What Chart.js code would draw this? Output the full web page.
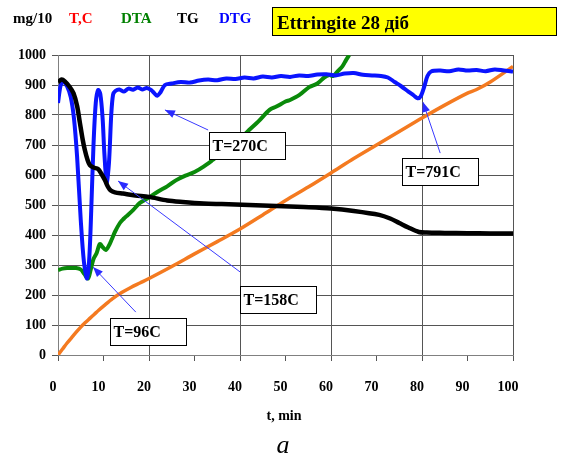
<!DOCTYPE html>
<html>
<head>
<meta charset="utf-8">
<script src="https://cdn.jsdelivr.net/npm/chart.js@4.4.1/dist/chart.umd.min.js"></script>
<style>
html,body{margin:0;padding:0;background:#fff;}
#wrap{width:564px;height:459px;position:relative;}
</style>
</head>
<body>
<div id="wrap"><canvas id="c" width="564" height="459"></canvas></div>
<script>
// ---- data (t in min) ----
const tDTG = [0,0.6,1.2,2,2.8,3.5,4.2,5.0,5.7,6.4,6.9,7.3,7.8,8.3,8.8,9.3,9.8,10.2,10.7,11.2,11.7,12.1,12.6,13.5,14.5,15.5,16.5,17.5,18.5,19.5,20.5,21.2,21.8,22.5,23.5,25,27,29,31,33,35,37,39,41,43,45,47,49,51,53,55,57,59,61,63,65,67,69,71,72.5,74,75.5,77,78.2,79,79.7,80.5,81.2,82,84,86,88,90,92,94,96,98,100];
const vDTG = [840,900,911,895,860,790,660,450,310,255,330,480,700,840,883,870,790,670,575,640,800,868,880,885,878,888,884,892,885,890,883,872,864,875,900,905,910,908,915,918,916,922,920,925,922,928,925,930,927,932,930,935,936,932,938,940,934,932,930,925,910,895,878,865,856,862,895,930,945,948,946,952,948,950,946,952,948,945];

const tTG = [0,0.8,1.5,2.5,3.4,4.2,4.8,5.4,5.9,6.5,7,7.8,8.8,9.5,10.3,11,11.6,12.5,14.3,17,20,24,27.4,32,36,42,48,54,60,65,70.6,73,75,77,79.3,81,85,90,95,100];
const vTG = [910,918,912,895,873,830,775,720,683,650,633,625,620,605,583,560,548,542,538,532,527,515,510,505,503,500,497,493,488,480,467,455,440,425,410,408,407,406,405,405];

const tDTA = [0,1,2,3,4,5,5.8,6.6,7.2,7.8,8.5,9.2,9.8,10.5,11.2,11.8,12.5,13.6,14.5,15,16.5,18,20,22,24,26,28,30,32,34,35,36,38,40,42,44,46.5,48,50,51,53,55.2,57,58.5,59.6,60.5,61.5,62.5,63.3,64];
const vDTA = [283,288,290,290,290,285,270,255,285,320,340,370,360,350,365,385,410,440,455,462,483,507,525,545,562,583,598,610,628,650,662,680,700,720,750,778,817,828,845,850,866,893,905,925,933,930,946,962,983,1000];

const tT = [0,1,2,3,4,5,6,7,8,9,10,12,14,16,18,20,25,30,35,40,45,50,55,60,65,70,75,80,85,90,92,95,100];
const vT = [0,20,40,58,76,93,108,122,136,150,163,188,208,225,240,255,295,337,378,420,467,515,560,607,655,700,745,790,833,873,885,910,962];

// tick settings
const xTicks = {min:0, max:100, step:10};
const yTicks = {min:0, max:1000, step:100};

// annotations (data coordinates)
const annText = ['T=96C','T=158C','T=270C','T=791C'];
const annBoxT = [11.4, 40.0, 33.2, 75.6];
const annBoxV = [123, 230, 743, 657];
const annTailT = [17.1, 40.0, 33.0, 84.0];
const annTailV = [143, 277, 750, 673];
const annTipT = [7.7, 13.2, 23.5, 80.2];
const annTipV = [293, 580, 817, 843];

const legendText = ['mg/10','T,C','DTA','TG','DTG'];
const legendColor = ['#000000','#ff0000','#008000','#000000','#0000ff'];
const legendX = [13,69,121,177,219];
const titleText = 'Ettringite 28 діб';

const pts = (ts, vs) => ts.map((t,i)=>({x:t,y:vs[i]}));
const SERIF = "'Liberation Serif','DejaVu Serif',serif";

const overlay = {
  id:'overlay',
  afterDatasetsDraw(chart){
    const {ctx, scales:{x,y}} = chart;
    ctx.save();
    // arrows
    for(let i=0;i<annText.length;i++){
      const x1=x.getPixelForValue(annTailT[i]), y1=y.getPixelForValue(annTailV[i]);
      const x2=x.getPixelForValue(annTipT[i]), y2=y.getPixelForValue(annTipV[i]);
      ctx.strokeStyle='#3a3aff'; ctx.fillStyle='#2a2aff'; ctx.lineWidth=1;
      ctx.beginPath(); ctx.moveTo(x1,y1); ctx.lineTo(x2,y2); ctx.stroke();
      const a=Math.atan2(y2-y1,x2-x1), L=10, W=4;
      ctx.beginPath();
      ctx.moveTo(x2,y2);
      ctx.lineTo(x2-L*Math.cos(a)+W*Math.sin(a), y2-L*Math.sin(a)-W*Math.cos(a));
      ctx.lineTo(x2-L*Math.cos(a)-W*Math.sin(a), y2-L*Math.sin(a)+W*Math.cos(a));
      ctx.closePath(); ctx.fill();
    }
    // boxes
    ctx.font = "bold 16px "+SERIF;
    ctx.textBaseline='middle'; ctx.textAlign='left';
    for(let i=0;i<annText.length;i++){
      const bx=Math.round(x.getPixelForValue(annBoxT[i]))+0.5;
      const by=Math.round(y.getPixelForValue(annBoxV[i]))+0.5;
      const bw=76, bh=27;
      ctx.fillStyle='#fff'; ctx.fillRect(bx,by,bw,bh);
      ctx.strokeStyle='#000'; ctx.lineWidth=1; ctx.strokeRect(bx,by,bw,bh);
      ctx.fillStyle='#000'; ctx.fillText(annText[i], bx+3, by+bh/2+1);
    }
    ctx.restore();
  },
  afterDraw(chart){
    const ctx=chart.ctx;
    ctx.save();
    ctx.textBaseline='alphabetic'; ctx.textAlign='left';
    ctx.font="bold 15px "+SERIF;
    legendText.forEach((s,i)=>{ctx.fillStyle=legendColor[i]; ctx.fillText(s, legendX[i], 23);});
    // title box
    ctx.fillStyle='#ffff00'; ctx.fillRect(272.5,7.5,284,28);
    ctx.strokeStyle='#000'; ctx.lineWidth=1; ctx.strokeRect(272.5,7.5,284,28);
    ctx.fillStyle='#000'; ctx.font="bold 19px "+SERIF;
    ctx.fillText(titleText, 277, 29);
    // axis title
    ctx.textAlign='center'; ctx.textBaseline='middle';
    ctx.font="bold 14px "+SERIF;
    ctx.fillText('t, min', 284, 416);
    ctx.font="italic 26px "+SERIF;
    ctx.fillText('a', 283, 446);
    ctx.restore();
  }
};

new Chart(document.getElementById('c'), {
  type:'scatter',
  data:{datasets:[
    {label:'TG', data:pts(tTG,vTG), showLine:true, borderColor:'#000000', borderWidth:4.5, pointRadius:0, tension:0.3, order:1},
    {label:'DTG', data:pts(tDTG,vDTG), showLine:true, borderColor:'#0a14ff', borderWidth:4, pointRadius:0, tension:0.3, order:2},
    {label:'DTA', data:pts(tDTA,vDTA), showLine:true, borderColor:'#0a8a0a', borderWidth:4, pointRadius:0, tension:0.3, order:3},
    {label:'T,C', data:pts(tT,vT), showLine:true, borderColor:'#f47a20', borderWidth:3.5, pointRadius:0, tension:0.3, order:4}
  ]},
  options:{
    responsive:false, animation:false,
    layout:{padding:{left:0,right:51,top:55,bottom:0}},
    plugins:{legend:{display:false}, tooltip:{enabled:false}},
    scales:{
      x:{type:'linear', min:xTicks.min, max:xTicks.max,
         afterFit(s){s.height=104;},
         border:{color:'#808080', width:1},
         grid:{color:c=>(c.tick && c.tick.value%20===0)?'#555555':'rgba(0,0,0,0)', tickColor:'#555555', tickLength:6, lineWidth:1},
         ticks:{stepSize:xTicks.step, padding:18, labelOffset:-5, color:'#000', font:{family:SERIF, size:14, weight:'bold'}, maxRotation:0, autoSkip:false, callback:v=>String(v)}
      },
      y:{type:'linear', min:yTicks.min, max:yTicks.max,
         afterFit(s){s.width=58;},
         border:{color:'#808080', width:1},
         grid:{color:'#555555', tickColor:'#555555', tickLength:6, lineWidth:1},
         ticks:{stepSize:yTicks.step, padding:6, color:'#000', font:{family:SERIF, size:14, weight:'bold'}, callback:v=>String(v)}
      }
    }
  },
  plugins:[overlay]
});
</script>
</body>
</html>
